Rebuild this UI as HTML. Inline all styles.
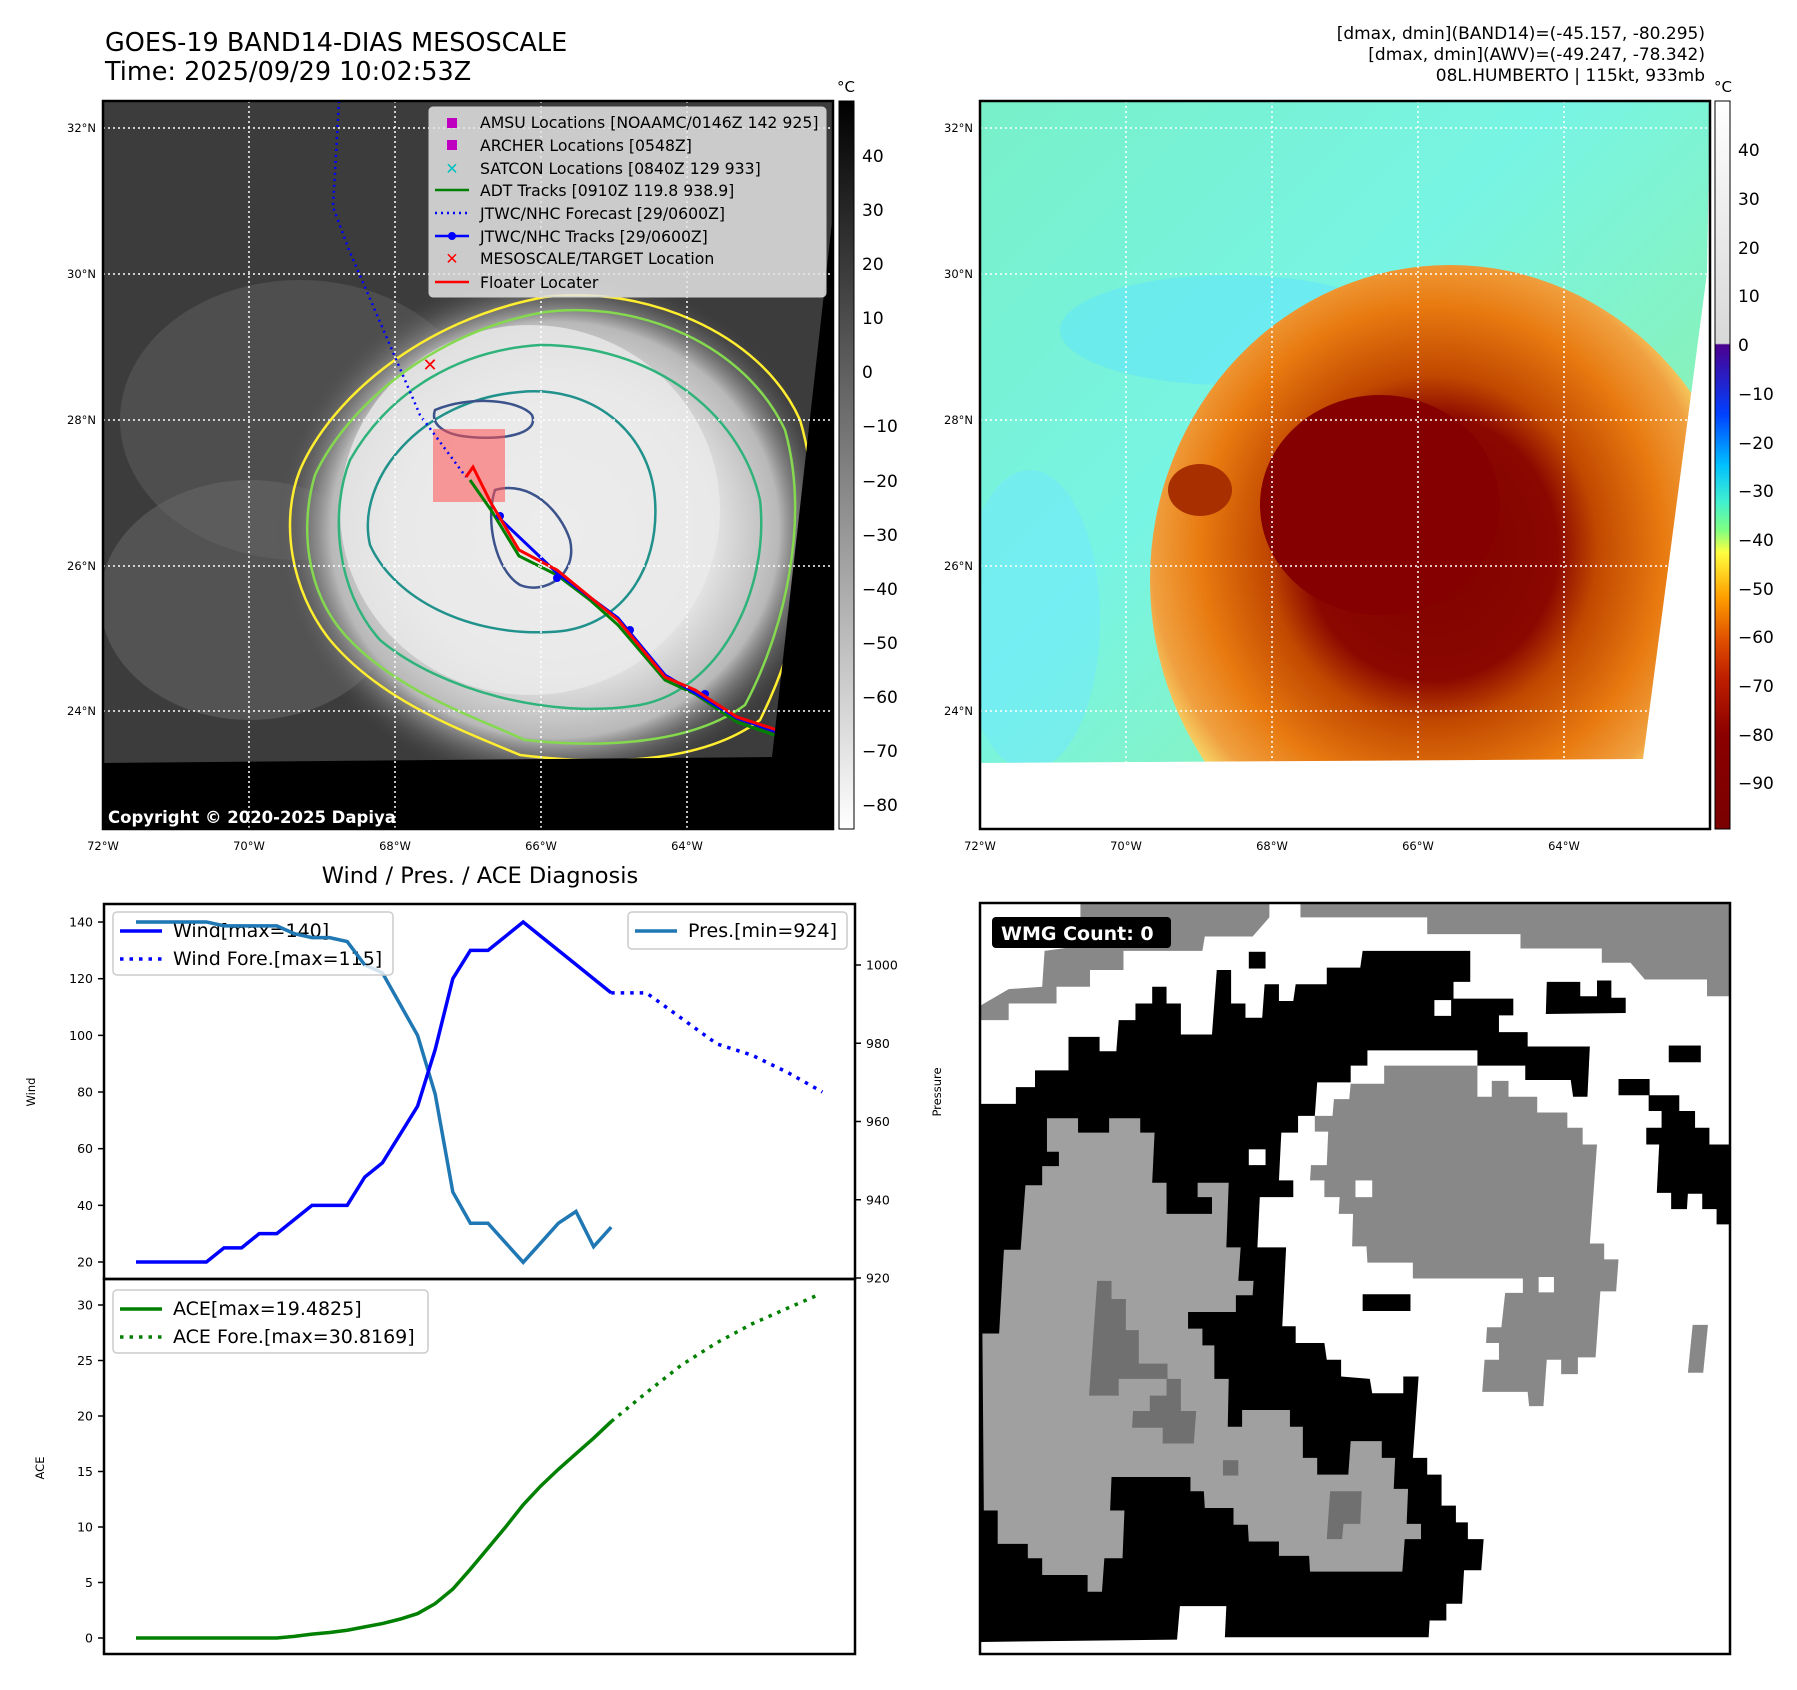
<!DOCTYPE html>
<html><head><meta charset="utf-8"><style>
html,body{margin:0;padding:0;background:#fff}
svg{display:block;font-family:"DejaVu Sans","Liberation Sans",sans-serif}
</style></head><body>
<svg id="fig" width="1797" height="1690" viewBox="0 0 1797 1690" xmlns="http://www.w3.org/2000/svg">
<defs>
<radialGradient id="ircore" cx="0.5" cy="0.5" r="0.5">
<stop offset="0" stop-color="#f4f4f4"/><stop offset="0.55" stop-color="#e6e6e6"/><stop offset="0.8" stop-color="#b8b8b8"/><stop offset="1" stop-color="#4a4a4a" stop-opacity="0"/>
</radialGradient>
<radialGradient id="awvstorm" cx="0.47" cy="0.45" r="0.55">
<stop offset="0" stop-color="#800000"/><stop offset="0.38" stop-color="#8a0800"/><stop offset="0.5" stop-color="#c04800"/><stop offset="0.7" stop-color="#e87a10"/><stop offset="0.85" stop-color="#f0a040"/><stop offset="0.94" stop-color="#f8e070"/><stop offset="1" stop-color="#a0f0a0" stop-opacity="0"/>
</radialGradient>
<linearGradient id="cb1" x1="0" y1="0" x2="0" y2="1"><stop offset="0" stop-color="#000"/><stop offset="1" stop-color="#fff"/></linearGradient>
<linearGradient id="cb2" x1="0" y1="0" x2="0" y2="1">
<stop offset="0" stop-color="#ffffff"/><stop offset="0.333" stop-color="#d8d8d8"/><stop offset="0.335" stop-color="#4b0090"/><stop offset="0.43" stop-color="#0040ff"/><stop offset="0.5" stop-color="#00c0ff"/><stop offset="0.55" stop-color="#40f0d0"/><stop offset="0.59" stop-color="#80ff80"/><stop offset="0.62" stop-color="#ffff40"/><stop offset="0.68" stop-color="#ffa000"/><stop offset="0.74" stop-color="#e05000"/><stop offset="0.79" stop-color="#c02000"/><stop offset="0.87" stop-color="#8b0000"/><stop offset="1" stop-color="#7a0000"/>
</linearGradient>
<linearGradient id="awvbg" x1="0" y1="0" x2="1" y2="1"><stop offset="0" stop-color="#78f0c8"/><stop offset="0.4" stop-color="#78f4e4"/><stop offset="1" stop-color="#98f090"/></linearGradient>
<clipPath id="m1clip"><rect x="103" y="101" width="730" height="728"/></clipPath>
<clipPath id="m2clip"><rect x="980" y="101" width="730" height="728"/></clipPath>
</defs>

<text x="105" y="51" font-size="25.5">GOES-19 BAND14-DIAS MESOSCALE</text>
<text x="105" y="80" font-size="25.5">Time: 2025/09/29 10:02:53Z</text>
<g font-size="17" text-anchor="end">
<text x="1705" y="39">[dmax, dmin](BAND14)=(-45.157, -80.295)</text>
<text x="1705" y="60">[dmax, dmin](AWV)=(-49.247, -78.342)</text>
<text x="1705" y="81">08L.HUMBERTO | 115kt, 933mb</text>
</g>

<g clip-path="url(#m1clip)">
<rect x="103" y="101" width="730" height="728" fill="#3c3c3c"/>
<ellipse cx="300" cy="420" rx="180" ry="140" fill="#5a5a5a" opacity="0.6"/>
<ellipse cx="250" cy="600" rx="150" ry="120" fill="#6a6a6a" opacity="0.5"/>
<ellipse cx="555" cy="530" rx="280" ry="260" fill="url(#ircore)"/>
<ellipse cx="530" cy="510" rx="190" ry="185" fill="#eaeaea" opacity="0.8"/>
<g fill="none" stroke-width="2.5">
<path d="M545,297 C640,285 760,330 800,420 C830,520 800,640 760,720 C700,765 600,765 520,755 C460,730 380,700 330,640 C290,590 280,520 300,470 C330,400 420,320 545,297 Z" stroke="#ffee30"/>
<path d="M545,312 C640,300 745,345 785,430 C810,520 785,630 745,705 C690,745 600,748 525,740 C470,715 395,690 345,635 C305,590 300,525 315,475 C345,410 430,332 545,312 Z" stroke="#84d94e"/>
<path d="M520,392 C590,385 650,430 655,500 C660,570 620,630 550,632 C470,636 395,600 370,545 C355,480 420,400 520,392 Z" stroke="#21918c"/>
<path d="M540,345 C650,345 740,410 760,500 C770,590 720,690 640,705 C550,720 440,690 380,640 C335,590 330,510 350,460 C390,390 460,350 540,345 Z" stroke="#2fb37a"/>
<path d="M435,410 C470,395 520,400 532,415 C540,435 500,440 470,437 C445,435 430,425 435,410 Z M495,490 C530,480 560,510 570,540 C578,575 545,595 520,585 C495,570 485,520 495,490 Z" stroke="#3b528b"/>
</g>
<rect x="433" y="429" width="72" height="73" fill="#ff5050" opacity="0.55"/>
<polyline points="339,101 333,207 349,250 420,415 466,477" fill="none" stroke="#0000ff" stroke-width="2.5" stroke-dasharray="2,4"/>
<polyline points="470,480 491,510 519,556 557,575 590,600 618,625 665,680 695,694 737,722 777,736 814,750 833,765" fill="none" stroke="#008000" stroke-width="3"/>
<polyline points="496,515 557,573 618,618 665,675 737,718 814,745 833,762" fill="none" stroke="#0000ff" stroke-width="3"/>
<g fill="#0000ff"><circle cx="500" cy="516" r="4"/><circle cx="557" cy="578" r="4"/><circle cx="630" cy="630" r="4"/><circle cx="705" cy="694" r="4"/></g>
<polyline points="466,477 473,467 491,503 519,550 557,570 590,597 618,620 665,677 695,690 737,717 777,730 814,743 833,760" fill="none" stroke="#ff0000" stroke-width="3"/>
<text x="430" y="371" font-size="18" fill="#ff0000" font-weight="bold" text-anchor="middle">✕</text>
<polygon points="833,213 833,829 103,829 103,763 772,757" fill="#000"/>
<g stroke="#fff" stroke-width="1.5" stroke-dasharray="2,3">
<line x1="103" y1="128" x2="833" y2="128"/><line x1="103" y1="274" x2="833" y2="274"/><line x1="103" y1="420" x2="833" y2="420"/><line x1="103" y1="566" x2="833" y2="566"/><line x1="103" y1="711" x2="833" y2="711"/>
<line x1="249" y1="101" x2="249" y2="829"/><line x1="395" y1="101" x2="395" y2="829"/><line x1="541" y1="101" x2="541" y2="829"/><line x1="687" y1="101" x2="687" y2="829"/>
</g>
<text x="108" y="823" font-size="16.5" font-weight="bold" fill="#fff">Copyright © 2020-2025 Dapiya</text>
</g>
<rect x="103" y="101" width="730" height="728" fill="none" stroke="#000" stroke-width="2.5"/>
<g font-size="15.7">
<rect x="429" y="107" width="397" height="190" rx="4" fill="#e4e4e4" fill-opacity="0.85" stroke="#ccc"/>
<rect x="447" y="118" width="10" height="10" fill="#c000c0"/><text x="480" y="128">AMSU Locations [NOAAMC/0146Z 142 925]</text>
<rect x="447" y="140" width="10" height="10" fill="#c000c0"/><text x="480" y="151">ARCHER Locations [0548Z]</text>
<text x="452" y="174" fill="#00c0c0" text-anchor="middle" font-weight="bold">✕</text><text x="480" y="174">SATCON Locations [0840Z 129 933]</text>
<line x1="435" y1="190" x2="469" y2="190" stroke="#008000" stroke-width="2.5"/><text x="480" y="196">ADT Tracks [0910Z 119.8 938.9]</text>
<line x1="435" y1="213" x2="469" y2="213" stroke="#0000ff" stroke-width="2.5" stroke-dasharray="2,4"/><text x="480" y="219">JTWC/NHC Forecast [29/0600Z]</text>
<line x1="435" y1="236" x2="469" y2="236" stroke="#0000ff" stroke-width="2.5"/><circle cx="452" cy="236" r="4" fill="#0000ff"/><text x="480" y="242">JTWC/NHC Tracks [29/0600Z]</text>
<text x="452" y="264" fill="#ff0000" text-anchor="middle" font-weight="bold">✕</text><text x="480" y="264">MESOSCALE/TARGET Location</text>
<line x1="435" y1="282" x2="469" y2="282" stroke="#ff0000" stroke-width="2.5"/><text x="480" y="288">Floater Locater</text>
</g>
<g font-size="11.5" fill="#000">
<g text-anchor="end"><text x="96" y="132">32°N</text><text x="96" y="278">30°N</text><text x="96" y="424">28°N</text><text x="96" y="570">26°N</text><text x="96" y="715">24°N</text></g>
<g text-anchor="middle"><text x="103" y="850">72°W</text><text x="249" y="850">70°W</text><text x="395" y="850">68°W</text><text x="541" y="850">66°W</text><text x="687" y="850">64°W</text></g>
</g>
<rect x="839" y="101" width="15" height="728" fill="url(#cb1)" stroke="#000"/>
<text x="846" y="92" font-size="15" text-anchor="middle">°C</text>
<g font-size="17">
<text x="862" y="162">40</text><text x="862" y="216">30</text><text x="862" y="270">20</text><text x="862" y="324">10</text><text x="862" y="378">0</text><text x="862" y="432">−10</text><text x="862" y="487">−20</text><text x="862" y="541">−30</text><text x="862" y="595">−40</text><text x="862" y="649">−50</text><text x="862" y="703">−60</text><text x="862" y="757">−70</text><text x="862" y="811">−80</text>
</g>

<g clip-path="url(#m2clip)">
<rect x="980" y="101" width="730" height="728" fill="url(#awvbg)"/>
<ellipse cx="1230" cy="330" rx="170" ry="55" fill="#60e4ff" opacity="0.5"/>
<ellipse cx="1030" cy="620" rx="70" ry="150" fill="#70e8ff" opacity="0.5"/>
<ellipse cx="1450" cy="580" rx="300" ry="315" fill="url(#awvstorm)"/>
<ellipse cx="1380" cy="505" rx="120" ry="110" fill="#850000"/>
<ellipse cx="1200" cy="490" rx="32" ry="26" fill="#a83000"/>
<polygon points="1707,273 1710,101 1710,829 980,829 980,763 1643,759" fill="#fff"/>
<g stroke="#fff" stroke-width="1.5" stroke-dasharray="2,3">
<line x1="980" y1="128" x2="1710" y2="128"/><line x1="980" y1="274" x2="1710" y2="274"/><line x1="980" y1="420" x2="1710" y2="420"/><line x1="980" y1="566" x2="1710" y2="566"/><line x1="980" y1="711" x2="1710" y2="711"/>
<line x1="1126" y1="101" x2="1126" y2="763"/><line x1="1272" y1="101" x2="1272" y2="763"/><line x1="1418" y1="101" x2="1418" y2="763"/><line x1="1564" y1="101" x2="1564" y2="763"/>
</g>
</g>
<rect x="980" y="101" width="730" height="728" fill="none" stroke="#000" stroke-width="2.5"/>
<g font-size="11.5">
<g text-anchor="end"><text x="973" y="132">32°N</text><text x="973" y="278">30°N</text><text x="973" y="424">28°N</text><text x="973" y="570">26°N</text><text x="973" y="715">24°N</text></g>
<g text-anchor="middle"><text x="980" y="850">72°W</text><text x="1126" y="850">70°W</text><text x="1272" y="850">68°W</text><text x="1418" y="850">66°W</text><text x="1564" y="850">64°W</text></g>
</g>
<rect x="1715" y="101" width="15" height="728" fill="url(#cb2)" stroke="#000"/>
<text x="1723" y="92" font-size="15" text-anchor="middle">°C</text>
<g font-size="17">
<text x="1738" y="156">40</text><text x="1738" y="205">30</text><text x="1738" y="254">20</text><text x="1738" y="302">10</text><text x="1738" y="351">0</text><text x="1738" y="400">−10</text><text x="1738" y="449">−20</text><text x="1738" y="497">−30</text><text x="1738" y="546">−40</text><text x="1738" y="595">−50</text><text x="1738" y="643">−60</text><text x="1738" y="692">−70</text><text x="1738" y="741">−80</text><text x="1738" y="789">−90</text>
</g>

<g transform="translate(980,903) scale(0.4783)">
<rect x="0" y="0" width="1568" height="1570" fill="#fff"/>
<polygon fill="#888" points="210,0 605,0 605,30 570,70 470,70 465,100 300,100 300,140 230,140 230,175 160,175 160,210 60,210 60,245 0,245 0,215 60,180 130,175 135,100 210,90"/>
<polygon fill="#888" points="670,0 1568,0 1568,195 1520,195 1520,160 1390,160 1360,125 1300,125 1300,95 1130,95 1130,65 935,65 935,30 670,30"/>
<polygon fill="#000" points="0,420 75,420 75,385 115,385 115,350 185,350 185,280 250,280 250,310 285,310 290,245 325,245 325,210 360,210 360,175 390,175 390,210 420,210 420,275 485,275 495,140 525,140 525,210 555,210 555,240 590,240 595,170 625,170 625,205 655,205 660,170 725,170 725,135 795,135 800,100 1025,100 1025,165 990,165 990,200 1115,200 1115,235 1085,235 1085,270 1145,270 1145,300 1275,300 1270,405 1240,405 1235,370 1140,370 1140,340 1040,340 1040,308 810,308 810,340 775,340 775,375 705,375 700,445 665,445 665,480 630,480 625,580 655,580 655,615 585,615 580,720 640,720 632,885 660,885 660,920 720,920 725,955 755,955 755,990 815,995 820,1025 885,1025 885,990 917,990 905,1160 935,1160 935,1195 965,1195 965,1260 995,1260 995,1295 1020,1295 1020,1330 1053,1330 1048,1395 1012,1395 1008,1465 975,1465 975,1500 940,1500 938,1535 512,1535 515,1470 418,1470 412,1540 0,1545"/>
<polygon fill="#a0a0a0" points="140,450 205,450 205,480 270,480 270,450 335,450 335,480 365,480 360,585 390,585 390,650 485,650 485,615 455,615 455,585 520,585 515,720 545,720 540,790 572,790 570,820 535,820 535,855 435,855 435,890 465,890 465,925 490,925 490,995 520,995 518,1095 548,1095 548,1060 648,1060 648,1095 675,1095 675,1160 705,1160 705,1195 770,1195 775,1125 840,1125 840,1160 868,1160 865,1225 895,1225 892,1298 922,1298 922,1330 888,1330 883,1398 690,1398 688,1365 625,1365 625,1335 562,1335 560,1300 530,1300 530,1265 470,1265 468,1230 440,1230 440,1200 275,1200 272,1270 302,1270 298,1370 260,1370 255,1440 225,1440 225,1405 130,1405 130,1370 100,1370 100,1340 37,1340 37,1270 8,1270 5,900 40,900 50,725 85,725 95,590 130,590 130,550 165,550 165,520 140,520"/>
<polygon fill="#707070" points="245,790 275,790 275,828 305,828 305,893 332,893 332,963 392,963 392,995 290,995 290,1030 228,1030"/>
<polygon fill="#707070" points="390,995 420,995 420,1062 452,1062 447,1130 382,1130 382,1097 318,1097 320,1062 355,1062 355,1030 390,1030"/>
<polygon fill="#707070" points="732,1230 798,1230 795,1298 760,1298 757,1330 725,1330"/>
<rect x="508" y="1165" width="32" height="32" fill="#707070"/>
<polygon fill="#888" points="845,340 1040,340 1040,405 1070,405 1070,372 1105,372 1105,405 1165,405 1165,438 1228,438 1228,470 1260,470 1260,505 1290,505 1275,712 1305,712 1305,745 1335,745 1330,812 1297,812 1287,950 1250,950 1250,985 1215,985 1215,955 1185,955 1178,1052 1148,1052 1145,1022 1050,1022 1055,955 1085,955 1085,920 1058,920 1060,887 1090,887 1098,815 1135,815 1135,785 905,785 905,752 810,752 808,718 778,718 780,650 750,650 752,615 720,615 720,580 690,580 692,548 725,548 728,478 700,478 700,445 737,445 740,410 772,410 775,378 845,378"/>
<rect x="785" y="580" width="35" height="35" fill="#fff"/><rect x="1168" y="782" width="32" height="32" fill="#fff"/>
<rect x="562" y="515" width="35" height="33" fill="#fff"/><rect x="950" y="203" width="35" height="33" fill="#fff"/>
<rect x="800" y="818" width="100" height="35" fill="#000"/><rect x="562" y="102" width="35" height="35" fill="#000"/>
<polygon fill="#000" points="1185,165 1255,165 1255,195 1290,195 1290,162 1320,162 1320,198 1350,198 1350,230 1183,232"/>
<rect x="1440" y="298" width="67" height="35" fill="#000"/>
<polygon fill="#000" points="1335,368 1400,368 1400,402 1462,402 1462,435 1495,435 1495,470 1525,470 1525,505 1568,505 1568,672 1540,672 1540,640 1510,640 1510,608 1480,608 1478,640 1445,640 1445,606 1415,606 1420,505 1393,505 1393,470 1425,470 1425,435 1398,435 1398,402 1335,402"/>
<polygon fill="#888" points="1490,882 1522,882 1512,982 1480,982"/>
</g>
<rect x="980" y="903" width="750" height="751" fill="none" stroke="#000" stroke-width="2.5"/>
<rect x="992" y="917" width="179" height="31" rx="4" fill="#000"/>
<text x="1001" y="940" font-size="19" font-weight="bold" fill="#fff">WMG Count: 0</text>

<text x="480" y="883" font-size="22.5" text-anchor="middle">Wind / Pres. / ACE Diagnosis</text>
<g id="charts"></g>
<rect x="104" y="904" width="751" height="375" fill="none" stroke="#000" stroke-width="2.5"/>
<rect x="104" y="1279" width="751" height="375" fill="none" stroke="#000" stroke-width="2.5"/>
<text transform="translate(35,1092) rotate(-90)" font-size="11.5" text-anchor="middle">Wind</text>
<text transform="translate(941,1092) rotate(-90)" font-size="11.5" text-anchor="middle">Pressure</text>
<text transform="translate(44,1468) rotate(-90)" font-size="11.5" text-anchor="middle">ACE</text>
</svg>
<script>
const windIdx = [0,1,2,3,4,5,6,7,8,9,10,11,12,13,14,15,16,17,18,19,20,21,22,23,24,25,26,27];
const windVals = [20,20,20,20,20,25,25,30,30,35,40,40,40,50,55,65,75,95,120,130,130,135,140,135,130,125,120,115];
const presVals = [1011,1011,1011,1011,1011,1010,1010,1010,1010,1008,1007,1007,1006,1000,998,990,982,967,942,934,934,929,924,929,934,937,928,933];
const aceVals = [0,0,0,0,0,0,0,0,0,0.15,0.35,0.5,0.7,1.0,1.3,1.7,2.2,3.1,4.4,6.2,8.1,10,12,13.7,15.2,16.6,18,19.5];
const foreIdx = [27,29,31,33,35,37,39];
const windFore = [115,115,106,97,93,87,80];
const aceForeIdx = [27,29,31,33,35,37,38.6];
const aceFore = [19.5,22.1,24.6,26.6,28.3,29.7,30.8];
const windTicks = [20,40,60,80,100,120,140];
const presTicks = [920,940,960,980,1000];
const aceTicks = [0,5,10,15,20,25,30];

const NS='http://www.w3.org/2000/svg';
const g=document.getElementById('charts');
function xS(i){return 136+i*17.6;}
function yW(v){return 1262-(v-20)*2.833;}
function yP(p){return 1278-(p-920)*3.9125;}
function yA(a){return 1638-a*11.1;}
function mk(tag,attrs){const e=document.createElementNS(NS,tag);for(const k in attrs)e.setAttribute(k,attrs[k]);g.appendChild(e);return e;}
function pts(xs,ys,fy){return xs.map((x,i)=>xS(x)+','+fy(ys[i])).join(' ');}

let l;
l=mk('polyline',{points:pts(windIdx,presVals,yP),fill:'none',stroke:'#1f77b4','stroke-width':3.5});


l=mk('polyline',{points:pts(windIdx,windVals,yW),fill:'none',stroke:'#0000ff','stroke-width':3.5});


l=mk('polyline',{points:pts(foreIdx,windFore,yW),fill:'none',stroke:'#0000ff','stroke-width':3.5,'stroke-dasharray':'3.5,6'});


l=mk('polyline',{points:pts(windIdx,aceVals,yA),fill:'none',stroke:'#008000','stroke-width':3.5});


l=mk('polyline',{points:pts(aceForeIdx,aceFore,yA),fill:'none',stroke:'#008000','stroke-width':3.5,'stroke-dasharray':'3.5,6'});



windTicks.forEach(v=>{const y=yW(v);
 const t=mk('line',{x1:98,x2:104,y1:y,y2:y,stroke:'#000','stroke-width':1.5});
 
 
 const tx=mk('text',{x:93,y:y+4.5,'font-size':12.5,'text-anchor':'end'});tx.textContent=v;
 
 });
presTicks.forEach(v=>{const y=yP(v);
 const t=mk('line',{x1:855,x2:861,y1:y,y2:y,stroke:'#000','stroke-width':1.5});
 
 
 const tx=mk('text',{x:866,y:y+4.5,'font-size':12.5});tx.textContent=v;
 
 });
aceTicks.forEach(v=>{const y=yA(v);
 const t=mk('line',{x1:98,x2:104,y1:y,y2:y,stroke:'#000','stroke-width':1.5});
 
 
 const tx=mk('text',{x:93,y:y+4.5,'font-size':12.5,'text-anchor':'end'});tx.textContent=v;
 
 });

function legend(name,x,y,w,h,items){
 const b=mk('rect',{x:x,y:y,width:w,height:h,rx:4,fill:'#fff','fill-opacity':0.8,stroke:'#ccc','stroke-width':1.5});
 
 
 items.forEach((it,i)=>{const cy=y+19+i*28;
  const ln=mk('line',{x1:x+7,x2:x+49,y1:cy,y2:cy,stroke:it.c,'stroke-width':3.5});
  if(it.d)ln.setAttribute('stroke-dasharray','3.5,6');
  
  
  const t=mk('text',{x:x+60,y:cy+6,'font-size':19});t.textContent=it.t;
  
  });
}
legend('wind-legend',113,912,280,63,[{c:'#0000ff',t:'Wind[max=140]'},{c:'#0000ff',t:'Wind Fore.[max=115]',d:1}]);
legend('pressure-legend',628,912,219,37,[{c:'#1f77b4',t:'Pres.[min=924]'}]);
legend('ace-legend',113,1290,315,63,[{c:'#008000',t:'ACE[max=19.4825]'},{c:'#008000',t:'ACE Fore.[max=30.8169]',d:1}]);
l=mk('polyline',{points:pts(windIdx.slice(0,14),presVals.slice(0,14),yP),fill:'none',stroke:'#1f77b4','stroke-width':3.5});


</script>
</body></html>
